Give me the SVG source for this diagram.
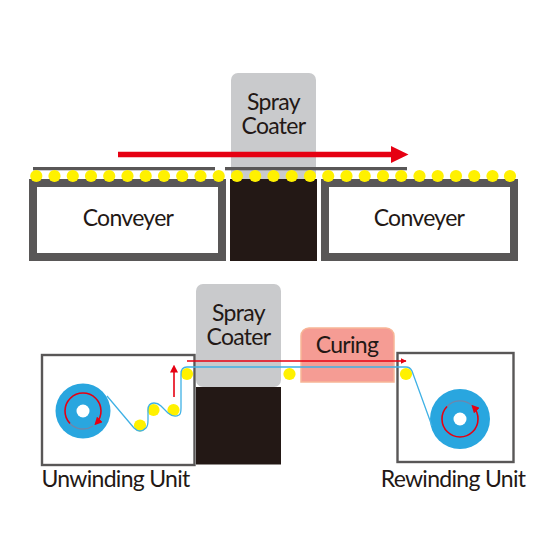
<svg xmlns="http://www.w3.org/2000/svg" width="560" height="560" viewBox="0 0 560 560">
<style>
text{font-family:Lato,"Open Sans","Liberation Sans",sans-serif;font-size:23px;letter-spacing:-.7px;fill:#231815;text-anchor:middle}
.gray{fill:#c9cacc}.black{fill:#231815}.dark{fill:#595757}.dot{fill:#fff100}
.frame{fill:#fff;stroke:#595757}
.box{fill:#fff;stroke:#595757;stroke-width:2.400}
.web{fill:none;stroke:#3fb1e5;stroke-width:1.300}
.red{fill:none;stroke:#e60012;stroke-width:1.600}
.coil{fill:#29a6df}
.faint{fill:none;stroke:#6f86ab;stroke-width:1.400}
</style>
<defs>
<marker id="tip" viewBox="0 0 10 10" refX="9" refY="5" markerWidth="6" markerHeight="6" markerUnits="userSpaceOnUse" orient="auto"><path d="M0 0L10 5L0 10Z" fill="#e60012"/></marker>
<marker id="tipb" viewBox="0 0 10 10" refX="7" refY="5" markerWidth="8" markerHeight="8" markerUnits="userSpaceOnUse" orient="auto"><path d="M0 0L10 5L0 10Z" fill="#e60012"/></marker>
<g id="dot"><circle r="6.100" class="dot"/></g>
</defs>

<g id="top-coater">
<rect x="231" y="73" width="85" height="108" rx="7" class="gray"/>
<rect x="230" y="179" width="87" height="82" class="black"/>
<text y="110"><tspan x="273.500">Spray</tspan><tspan x="273.500" dy="24">Coater</tspan></text>
</g>
<g id="top-conveyer-left">
<rect x="33" y="167" width="182" height="3.300" class="dark"/>
<rect x="33" y="183" width="189" height="74" class="frame" stroke-width="8"/>
<text x="128" y="226">Conveyer</text>
</g>
<g id="top-conveyer-right">
<rect x="225" y="167" width="182" height="3.300" class="dark"/>
<rect x="325" y="183" width="189" height="74" class="frame" stroke-width="8"/>
<text x="419" y="226">Conveyer</text>
</g>
<g id="top-dots">
<use href="#dot" x="36.300" y="176"/><use href="#dot" x="54.500" y="176"/><use href="#dot" x="72.800" y="176"/><use href="#dot" x="91" y="176"/><use href="#dot" x="109.200" y="176"/><use href="#dot" x="127.500" y="176"/><use href="#dot" x="145.700" y="176"/><use href="#dot" x="164" y="176"/><use href="#dot" x="182.200" y="176"/><use href="#dot" x="200.500" y="176"/><use href="#dot" x="218.700" y="176"/><use href="#dot" x="237" y="176"/><use href="#dot" x="255.200" y="176"/><use href="#dot" x="273.500" y="176"/><use href="#dot" x="291.700" y="176"/><use href="#dot" x="310" y="176"/><use href="#dot" x="328.200" y="176"/><use href="#dot" x="346.500" y="176"/><use href="#dot" x="364.700" y="176"/><use href="#dot" x="383" y="176"/><use href="#dot" x="401.200" y="176"/><use href="#dot" x="419.500" y="176"/><use href="#dot" x="437.700" y="176"/><use href="#dot" x="456" y="176"/><use href="#dot" x="474.200" y="176"/><use href="#dot" x="492.500" y="176"/><use href="#dot" x="510" y="176"/>
</g>
<g id="connectors-top">
<path d="M118 151.800H391V146L408.500 154.500L391 163V157.200H118Z" fill="#e60012"/>
</g>

<g id="unwinding-unit">
<rect x="42" y="355" width="152.500" height="110" class="box"/>
<circle cx="83" cy="411" r="27.500" class="coil"/>
<circle cx="83" cy="411" r="6.500" fill="#fff"/>
<text x="115.500" y="487">Unwinding Unit</text>
</g>
<g id="rewinding-unit">
<rect x="397.500" y="353" width="116" height="109" class="box"/>
<circle cx="460" cy="419" r="30" class="coil"/>
<circle cx="460" cy="419" r="6.500" fill="#fff"/>
<text x="453" y="487">Rewinding Unit</text>
</g>
<g id="bottom-coater">
<rect x="196" y="284" width="85" height="103" rx="7" class="gray"/>
<rect x="196" y="387" width="85" height="77.500" class="black"/>
<text y="321"><tspan x="238.500">Spray</tspan><tspan x="238.500" dy="24">Coater</tspan></text>
</g>
<g id="curing">
<path d="M301 382V336a8 8 0 0 1 8-8H386a8 8 0 0 1 8 8V382Z" fill="#f59c94" stroke="#f7b596" stroke-width="1.500"/>
<text x="347" y="353">Curing</text>
</g>
<g id="rollers">
<use href="#dot" x="140" y="425.500"/>
<use href="#dot" x="153.500" y="410"/>
<use href="#dot" x="173.500" y="410"/>
<use href="#dot" x="187" y="374"/>
<use href="#dot" x="289.500" y="374"/>
<use href="#dot" x="406" y="374"/>
</g>
<g id="connectors-bottom">
<path class="web" d="M107 396L134 428Q140 434 146 428Q148 426 148 420V410Q148 403 154 403Q158 403 161 406L168 413Q174 418 179 415Q181 414 181 408V374Q181 367 187 367H406Q410 367 412 371L432 426"/>
<path class="red" d="M187 361H406" marker-end="url(#tip)"/>
<path class="red" d="M174 397V367" stroke-width="2" marker-end="url(#tipb)"/>
<path class="faint" d="M70 423.500A18 18 0 0 0 93 426"/>
<path class="faint" d="M447 406.500A18 18 0 0 1 471 404.500"/>
<path class="red" d="M70 423.500A18 18 0 1 1 96 423.500" marker-end="url(#tipb)"/>
<path class="red" d="M447 406.500A18 18 0 1 0 473 406.500" marker-end="url(#tipb)"/>
</g>
</svg>
